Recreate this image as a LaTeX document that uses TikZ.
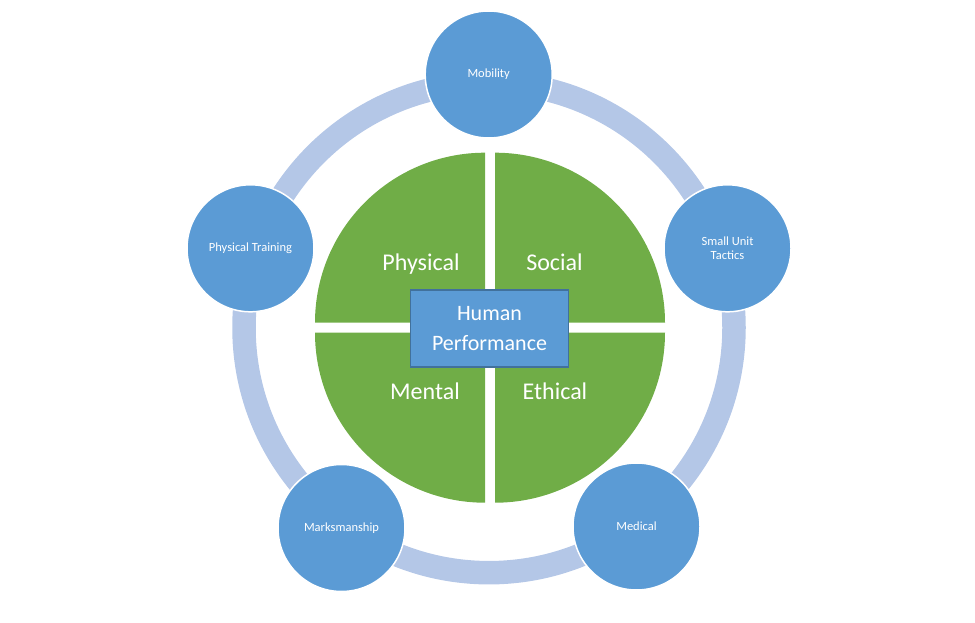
\documentclass[tikz,border=0pt]{standalone}
\usepackage{fontspec}
\setmainfont{Carlito}
\definecolor{ringc}{HTML}{B4C7E7}
\definecolor{nodec}{HTML}{5B9BD5}
\definecolor{greenc}{HTML}{70AD47}
\definecolor{boxline}{HTML}{41719C}
\tikzset{
  topic/.style={circle, fill=nodec, draw=white, line width=1.5pt, minimum size=127pt, inner sep=0pt, text=white, align=center, font=\fontsize{12.5}{14}\selectfont},
  quad/.style={fill=greenc, draw=none},
  quadlabel/.style={text=white, anchor=base, inner sep=0pt, font=\fontsize{24}{29}\selectfont},
  centerbox/.style={rectangle, fill=nodec, draw=boxline, line width=1.5pt, minimum width=158pt, minimum height=77pt, inner sep=0pt, text=white, align=center, font=\fontsize{22}{29.7}\selectfont}
}
\begin{document}
\begin{tikzpicture}[x=1pt,y=-1pt]
\useasboundingbox (0,0) rectangle (975,623);
% ring
\coordinate (c) at (489,327.7);
\draw[ringc, line width=23.5pt] (c) circle[radius=245];
% pie quadrants (y axis points down, so angles run clockwise on screen)
\fill[quad] (485,322.7) -- ++(-170,0) arc[start angle=180, end angle=270, radius=170] -- cycle;
\fill[quad] (495,322.7) -- ++(0,-170) arc[start angle=270, end angle=360, radius=170] -- cycle;
\fill[quad] (485,332.7) -- ++(0,170) arc[start angle=90, end angle=180, radius=170] -- cycle;
\fill[quad] (495,332.7) -- ++(170,0) arc[start angle=0, end angle=90, radius=170] -- cycle;
\node[quadlabel] (phys) at (421,270.7) {Physical};
\node[quadlabel] (soc) at (554.5,270.7) {Social};
\node[quadlabel] (ment) at (425,399.3) {Mental};
\node[quadlabel] (eth) at (555,399.3) {Ethical};
\node[centerbox] (hp) at (489.5,328.3) {Human\\Performance};
% topic circles
\node[topic] (mob) at (488.7,74.5) {Mobility};
\node[topic] (pt) at (250.5,248.3) {Physical Training};
\node[topic] (sut) at (727.5,248.3) {Small Unit\\Tactics};
\node[topic] (mark) at (341.5,528) {Marksmanship};
\node[topic] (med) at (636.5,526.5) {Medical};
\end{tikzpicture}
\end{document}
